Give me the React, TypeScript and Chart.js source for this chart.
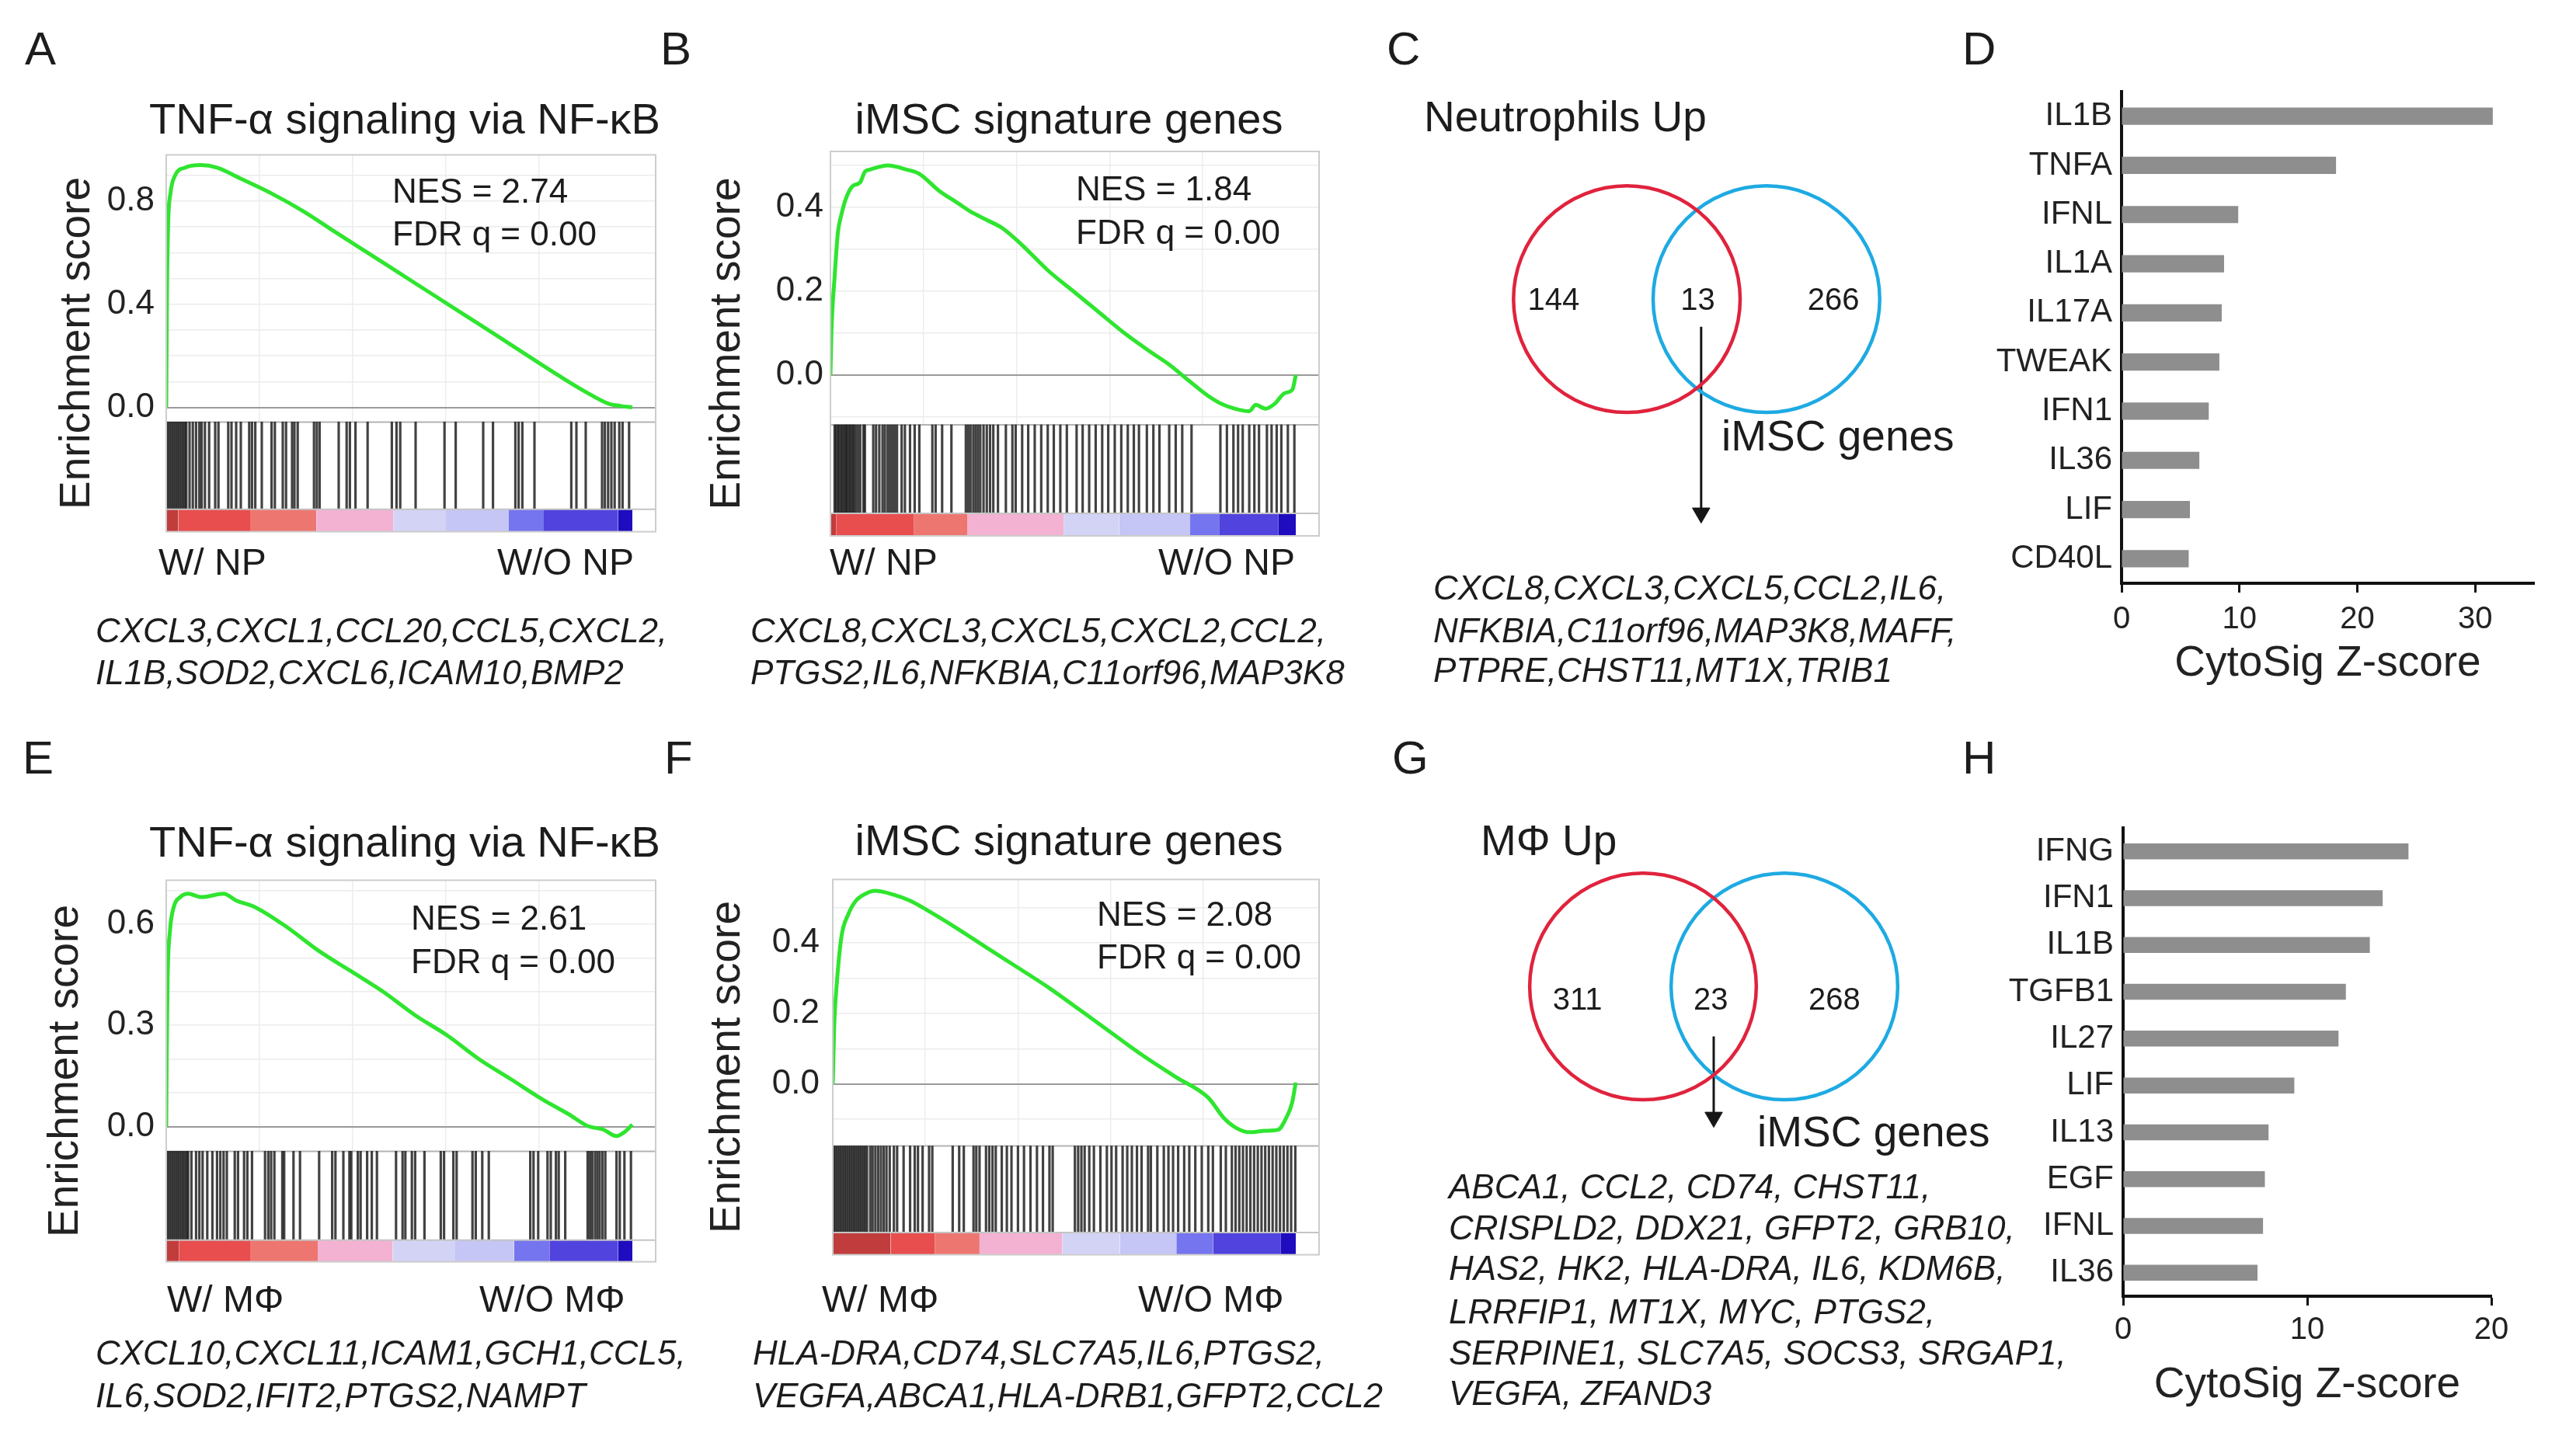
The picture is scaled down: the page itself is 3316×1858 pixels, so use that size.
import React, { useEffect, useRef } from 'react';
import { Chart, registerables } from 'chart.js';

Chart.register(...registerables);

const FONT = "'Liberation Sans', Arial, Helvetica, sans-serif";
Chart.defaults.font.family = FONT;
Chart.defaults.color = '#1e1e1e';

// ======================= DATA =======================
// GSEA running enrichment score: rank position (% of ranked list) and ES value
const A_RANK = [0, 0.14, 0.41, 0.9, 1.9, 4.0, 7.4, 10.9, 15.7, 22.6, 29.5, 36.3, 43.2, 50.1, 57.0, 63.9, 70.8, 77.6, 84.5, 90.0, 94.8, 97.6, 100];
const A_ES = [0, 0.41, 0.71, 0.83, 0.9, 0.93, 0.94, 0.93, 0.89, 0.83, 0.76, 0.68, 0.6, 0.52, 0.44, 0.36, 0.28, 0.2, 0.12, 0.06, 0.015, 0.005, 0];
const A_HITS = [0, 0.4, 0.8, 1.2, 1.6, 2.0, 2.4, 2.8, 3.2, 3.6, 4.0, 4.3, 5.0, 5.7, 6.4, 7.1, 7.6, 8.3, 9.2, 10.5, 11.2, 13.3, 14.0, 15.0, 16.0, 17.8, 18.4, 19.1, 20.5, 22.6, 23.3, 25.0, 25.7, 27.0, 27.5, 28.2, 31.7, 32.3, 32.9, 37.0, 38.7, 39.4, 40.6, 43.2, 48.4, 49.4, 50.2, 53.5, 59.7, 62.1, 68.0, 70.1, 74.9, 75.6, 76.4, 79.0, 86.9, 88.0, 90.0, 93.5, 94.1, 94.8, 95.5, 96.2, 97.2, 97.9, 99.3];
const A_BANDS = [0, 2.6, 18, 32.2, 48.7, 60, 73.5, 81, 96.9, 100];
const A_TICKS = [0, 0.4, 0.8];

const B_RANK = [0, 0.2, 0.9, 1.6, 2.3, 3.3, 4.7, 6.4, 7.4, 8.5, 12.3, 16.4, 19.1, 23.3, 27.4, 30.1, 33.6, 37.0, 41.2, 46.7, 52.2, 57.7, 63.2, 68.7, 72.8, 76.9, 81.1, 84.5, 88.0, 90.0, 91.4, 93.5, 95.5, 97.6, 99.3, 100];
const B_ES = [0, 0.099, 0.235, 0.34, 0.38, 0.42, 0.45, 0.46, 0.485, 0.49, 0.5, 0.49, 0.48, 0.44, 0.41, 0.39, 0.37, 0.35, 0.31, 0.25, 0.2, 0.15, 0.1, 0.056, 0.025, -0.012, -0.049, -0.071, -0.083, -0.086, -0.071, -0.08, -0.068, -0.043, -0.034, 0];
const B_HITS = [0.9, 1.2, 1.6, 1.9, 2.3, 2.6, 3.0, 3.3, 3.6, 4.0, 4.3, 4.7, 5.0, 5.4, 5.9, 6.4, 7.1, 7.4, 9.2, 9.8, 10.5, 11.2, 11.7, 12.3, 12.8, 13.3, 13.8, 14.3, 15.3, 16.0, 17.1, 18.1, 19.1, 21.9, 22.6, 24.0, 26.0, 29.1, 29.6, 30.1, 30.7, 31.2, 31.7, 32.2, 32.9, 33.6, 34.3, 35.0, 36.0, 37.7, 39.1, 39.8, 41.2, 42.5, 43.9, 45.3, 46.7, 48.0, 49.4, 50.8, 52.9, 54.2, 55.6, 57.0, 58.4, 59.7, 61.1, 62.5, 63.9, 65.2, 66.3, 68.0, 69.4, 70.7, 72.8, 74.2, 75.6, 77.6, 83.8, 85.2, 86.6, 87.6, 88.6, 90.0, 91.1, 92.1, 93.8, 94.8, 95.9, 96.9, 98.3, 99.7];
const B_BANDS = [0, 1.2, 18, 29.5, 50.1, 62, 77.3, 83.5, 96.2, 100];
const B_TICKS = [0, 0.2, 0.4];

const E_RANK = [0, 0.1, 0.3, 0.8, 1.6, 3.0, 4.7, 7.5, 12.3, 15.0, 19.1, 26.0, 32.8, 39.7, 46.5, 53.4, 60.3, 67.1, 74.0, 80.8, 86.3, 90.4, 93.8, 96.6, 98.6, 100];
const E_ES = [0, 0.21, 0.44, 0.58, 0.65, 0.68, 0.69, 0.68, 0.69, 0.67, 0.65, 0.59, 0.52, 0.46, 0.4, 0.33, 0.27, 0.2, 0.14, 0.08, 0.037, 0.002, -0.009, -0.028, -0.013, 0.006];
const E_HITS = [0, 0.4, 0.8, 1.2, 1.6, 2.0, 2.4, 2.8, 3.2, 3.6, 4.0, 4.4, 4.7, 5.4, 6.4, 7.1, 7.8, 8.8, 9.9, 10.9, 11.6, 12.3, 13.0, 14.7, 15.4, 16.7, 17.4, 18.4, 21.2, 21.9, 22.5, 23.2, 24.9, 25.3, 27.3, 28.7, 32.8, 35.6, 36.3, 38.0, 39.3, 39.7, 41.1, 41.7, 43.1, 44.1, 45.2, 49.3, 50.7, 51.3, 52.7, 53.4, 55.4, 58.9, 59.6, 61.6, 62.3, 65.7, 66.4, 67.8, 69.2, 78.1, 78.8, 79.8, 81.8, 82.5, 83.6, 84.2, 85.6, 90.4, 90.9, 91.4, 92.0, 92.5, 93.0, 93.6, 94.2, 96.6, 97.3, 98.3, 99.7];
const E_BANDS = [0, 2.7, 18, 32.5, 48.6, 62, 74.6, 82.2, 96.9, 100];
const E_TICKS = [0, 0.3, 0.6];

const F_RANK = [0, 0.3, 0.9, 1.9, 3.3, 5.0, 7.1, 9.1, 13.2, 16.7, 20.8, 26.3, 33.1, 40.0, 46.8, 53.7, 60.5, 67.4, 74.2, 81.1, 84.5, 87.3, 90.0, 93.4, 96.2, 97.9, 99.2, 100];
const F_ES = [0, 0.16, 0.29, 0.42, 0.48, 0.52, 0.54, 0.548, 0.537, 0.52, 0.49, 0.446, 0.388, 0.33, 0.272, 0.207, 0.142, 0.077, 0.019, -0.039, -0.097, -0.126, -0.137, -0.133, -0.13, -0.097, -0.054, 0.004];
const F_HITS = [0.2, 0.6, 1.0, 1.4, 1.8, 2.2, 2.6, 3.0, 3.4, 3.8, 4.2, 4.6, 5.0, 5.4, 5.8, 6.2, 6.6, 7.0, 7.4, 8.1, 8.6, 9.2, 9.8, 10.4, 11.0, 11.6, 12.3, 13.2, 13.9, 15.3, 16.7, 17.7, 18.4, 19.4, 20.8, 21.5, 25.9, 27.3, 28.3, 30.4, 31.0, 31.7, 33.1, 33.8, 34.5, 35.2, 36.5, 37.6, 38.6, 40.0, 41.3, 42.7, 44.1, 45.4, 46.8, 47.5, 52.3, 53.0, 53.7, 54.4, 55.4, 56.4, 57.8, 59.2, 60.2, 61.2, 62.6, 63.6, 64.6, 65.7, 66.7, 68.1, 68.7, 70.1, 71.5, 72.5, 73.5, 74.6, 75.9, 77.0, 78.3, 79.7, 81.1, 82.1, 83.8, 84.9, 86.2, 87.0, 87.8, 88.6, 89.4, 90.2, 91.0, 91.8, 92.6, 93.4, 94.2, 95.0, 95.8, 96.6, 97.4, 98.2, 99.0, 99.9];
const F_BANDS = [0, 12.5, 22, 31.7, 49.6, 62, 74.2, 82.1, 96.8, 100];
const F_TICKS = [0, 0.2, 0.4];

// Venn counts: [left only, overlap, right only]
const C_COUNTS = [144, 13, 266];
const G_COUNTS = [311, 23, 268];

// CytoSig bars
const D_CYTOKINES = ['IL1B', 'TNFA', 'IFNL', 'IL1A', 'IL17A', 'TWEAK', 'IFN1', 'IL36', 'LIF', 'CD40L'];
const D_ZSCORE = [31.5, 18.2, 9.9, 8.7, 8.5, 8.3, 7.4, 6.6, 5.8, 5.7];
const H_CYTOKINES = ['IFNG', 'IFN1', 'IL1B', 'TGFB1', 'IL27', 'LIF', 'IL13', 'EGF', 'IFNL', 'IL36'];
const H_ZSCORE = [15.5, 14.1, 13.4, 12.1, 11.7, 9.3, 7.9, 7.7, 7.6, 7.3];

// Gene lists
const A_GENES = ['CXCL3,CXCL1,CCL20,CCL5,CXCL2,', 'IL1B,SOD2,CXCL6,ICAM10,BMP2'];
const B_GENES = ['CXCL8,CXCL3,CXCL5,CXCL2,CCL2,', 'PTGS2,IL6,NFKBIA,C11orf96,MAP3K8'];
const C_GENES = ['CXCL8,CXCL3,CXCL5,CCL2,IL6,', 'NFKBIA,C11orf96,MAP3K8,MAFF,', 'PTPRE,CHST11,MT1X,TRIB1'];
const E_GENES = ['CXCL10,CXCL11,ICAM1,GCH1,CCL5,', 'IL6,SOD2,IFIT2,PTGS2,NAMPT'];
const F_GENES = ['HLA-DRA,CD74,SLC7A5,IL6,PTGS2,', 'VEGFA,ABCA1,HLA-DRB1,GFPT2,CCL2'];
const G_GENES = ['ABCA1, CCL2, CD74, CHST11,', 'CRISPLD2, DDX21, GFPT2, GRB10,', 'HAS2, HK2, HLA-DRA, IL6, KDM6B,', 'LRRFIP1, MT1X, MYC, PTGS2,', 'SERPINE1, SLC7A5, SOCS3, SRGAP1,', 'VEGFA, ZFAND3'];

// ======================= STYLE =======================
const BAND_COLORS = ['#c13c3c', '#e84e4e', '#ee7670', '#f3b2d2', '#d3d3f6', '#c5c5f6', '#7575ef', '#5143dd', '#1e0cbe'];
const TEXT = '#1c1c1c';
const PAD = 40;

type GL = { boxL: number; boxR: number; boxT: number; boxB: number; zeroY: number; ppu: number; dataEndX: number; esBottomY: number; gradTopY: number; titleCX: number; tickPad: number };

const LAYOUT_A: GL = { boxL: 214, boxR: 844, boxT: 198, boxB: 686, zeroY: 525, ppu: 333.75, dataEndX: 814, esBottomY: 544, gradTopY: 657, titleCX: 100, tickPad: 15 };
const LAYOUT_B: GL = { boxL: 1069, boxR: 1698, boxT: 195, boxB: 690, zeroY: 483, ppu: 540, dataEndX: 1668, esBottomY: 547, gradTopY: 661, titleCX: 937, tickPad: 9 };
const LAYOUT_E: GL = { boxL: 214, boxR: 844, boxT: 1132, boxB: 1626, zeroY: 1451, ppu: 437, dataEndX: 814, esBottomY: 1483, gradTopY: 1598, titleCX: 85, tickPad: 15 };
const LAYOUT_F: GL = { boxL: 1072, boxR: 1698, boxT: 1129, boxB: 1619, zeroY: 1396, ppu: 460, dataEndX: 1668, esBottomY: 1477, gradTopY: 1590, titleCX: 937, tickPad: 17 };

// ======================= COMPONENTS =======================
function ChartBox({ x, y, w, h, build }: { x: number; y: number; w: number; h: number; build: () => any }) {
  const ref = useRef<HTMLCanvasElement>(null);
  useEffect(() => {
    const chart = new Chart(ref.current as HTMLCanvasElement, build());
    return () => chart.destroy();
  }, []);
  const W = Math.round(w);
  const H = Math.round(h);
  return (
    <canvas
      ref={ref}
      width={W}
      height={H}
      style={{ position: 'absolute', left: Math.round(x), top: Math.round(y), width: W, height: H }}
    />
  );
}

const boxPlugin = {
  id: 'gseaBox',
  afterDatasetsDraw(chart: any) {
    const { ctx, chartArea: a } = chart;
    ctx.save();
    ctx.strokeStyle = '#cdcdcd';
    ctx.lineWidth = 2;
    ctx.strokeRect(a.left, a.top, a.right - a.left, a.bottom - a.top);
    ctx.restore();
  },
};

function GseaChart({ rank, es, hits, bands, ticks, L }: { rank: number[]; es: number[]; hits: number[]; bands: number[]; ticks: number[]; L: GL }) {
  const yMax = (L.zeroY - L.boxT) / L.ppu;
  const yMin = (L.zeroY - L.boxB) / L.ppu;
  const esB = (L.zeroY - L.esBottomY) / L.ppu;
  const gT = (L.zeroY - L.gradTopY) / L.ppu;
  const xMax = (100 * (L.boxR - L.boxL)) / (L.dataEndX - L.boxL);
  const left = L.titleCX - 33;
  const axisW = L.boxL - left;
  const w = L.boxR - left + 12;
  const h = L.boxB - L.boxT + 2 * PAD;

  const build = () => {
    const datasets: any[] = [];
    datasets.push({
      type: 'line', label: 'Enrichment score',
      data: rank.map((r, i) => ({ x: r, y: es[i] })),
      borderColor: '#2fe52f', borderWidth: 5, pointRadius: 0,
      cubicInterpolationMode: 'monotone', fill: false, order: 0,
    });
    datasets.push({
      type: 'line', label: 'rank top',
      data: [{ x: 0, y: gT }, { x: xMax, y: gT }],
      borderColor: '#c4c4c4', borderWidth: 2, pointRadius: 0, fill: false, order: 1,
    });
    datasets.push({
      type: 'bar', label: 'hits',
      data: hits.map((p) => ({ x: p, y: [gT, esB] })),
      backgroundColor: 'rgba(25,25,25,0.82)', barThickness: 2.5, order: 2,
    });
    for (let i = 0; i < bands.length - 1; i++) {
      datasets.push({
        type: 'line', label: 'metric' + i,
        data: [{ x: bands[i], y: gT }, { x: bands[i + 1], y: gT }],
        borderColor: 'rgba(0,0,0,0)', borderWidth: 0, pointRadius: 0,
        fill: { value: yMin }, backgroundColor: BAND_COLORS[i], order: 3,
      });
    }
    datasets.push({
      type: 'line', label: 'hit area',
      data: [{ x: 0, y: esB }, { x: xMax, y: esB }],
      borderColor: '#b3b3b3', borderWidth: 2, pointRadius: 0,
      fill: { value: yMin }, backgroundColor: '#ffffff', order: 4,
    });
    return {
      type: 'line',
      data: { datasets },
      options: {
        responsive: false, animation: false, devicePixelRatio: 1,
        layout: { padding: { left: 0, right: 12, top: PAD, bottom: PAD } },
        plugins: { legend: { display: false }, tooltip: { enabled: false } },
        scales: {
          x: {
            type: 'linear', min: 0, max: xMax, offset: false,
            ticks: { display: false, stepSize: 20 },
            grid: { color: '#ededed', lineWidth: 1.5, drawTicks: false, offset: false },
            border: { display: false },
            afterFit: (s: any) => { s.height = 0; },
          },
          y: {
            type: 'linear', min: yMin, max: yMax,
            ticks: {
              stepSize: 0.1, autoSkip: false, includeBounds: false, padding: L.tickPad,
              font: { size: 44 }, color: '#222',
              callback: (v: any) => (ticks.some((t) => Math.abs(t - Number(v)) < 1e-6) ? Number(v).toFixed(1) : ''),
            },
            grid: {
              drawTicks: false,
              color: (c: any) => (Math.abs(c.tick.value) < 1e-9 ? '#9a9a9a' : '#ececec'),
              lineWidth: (c: any) => (Math.abs(c.tick.value) < 1e-9 ? 2 : 1.5),
            },
            border: { display: false },
            title: { display: true, text: 'Enrichment score', font: { size: 55 }, color: '#222', padding: 0 },
            afterFit: (s: any) => { s.width = axisW; },
          },
        },
      },
      plugins: [boxPlugin],
    };
  };
  return <ChartBox x={left} y={L.boxT - PAD} w={w} h={h} build={build} />;
}

type VL = { cx: number; cy: number; r: number; sep: number; arrowX: number; arrowY0: number; arrowY1: number; labelX: number[]; labelY: number };
const VENN_C: VL = { cx: 2184, cy: 382, r: 153, sep: 0.616, arrowX: 0.04, arrowY0: -0.245, arrowY1: -1.987, labelX: [-1.263, 0.011, 1.207], labelY: -0.095 };
const VENN_G: VL = { cx: 2206, cy: 1267, r: 153, sep: 0.624, arrowX: 0.0, arrowY0: -0.444, arrowY1: -1.248, labelX: [-1.203, -0.026, 1.065], labelY: -0.203 };

function VennChart({ counts, names, V }: { counts: number[]; names: string[]; V: VL }) {
  const W = 600;
  const H = 520;
  const TOP = 200;
  const build = () => {
    const unitPx = (ctx: any) => {
      const s = ctx.chart.scales.x;
      return Math.abs(s.getPixelForValue(1) - s.getPixelForValue(0));
    };
    const headOff = 13 / V.r;
    const labelPlugin = {
      id: 'vennCounts',
      afterDatasetsDraw(chart: any) {
        const { ctx, scales } = chart;
        ctx.save();
        ctx.font = `40px ${FONT}`;
        ctx.fillStyle = TEXT;
        ctx.textAlign = 'center';
        ctx.textBaseline = 'alphabetic';
        counts.forEach((c, i) => {
          ctx.fillText(String(c), scales.x.getPixelForValue(V.labelX[i]), scales.y.getPixelForValue(V.labelY));
        });
        ctx.restore();
      },
    };
    return {
      type: 'scatter',
      data: {
        datasets: [
          { label: names[0], data: [{ x: -V.sep, y: 0 }], pointRadius: unitPx, pointBorderColor: '#e0233d', pointBackgroundColor: 'rgba(0,0,0,0)', pointBorderWidth: 4.5 },
          { label: names[1], data: [{ x: V.sep, y: 0 }], pointRadius: unitPx, pointBorderColor: '#1eaae2', pointBackgroundColor: 'rgba(0,0,0,0)', pointBorderWidth: 4.5 },
          { label: 'arrow', data: [{ x: V.arrowX, y: V.arrowY0 }, { x: V.arrowX, y: V.arrowY1 + headOff }], showLine: true, borderColor: '#161616', borderWidth: 3, pointRadius: 0 },
          { label: 'arrowhead', data: [{ x: V.arrowX, y: V.arrowY1 + headOff }], pointStyle: 'triangle', rotation: 180, pointRadius: 13, pointBackgroundColor: '#161616', pointBorderColor: '#161616', pointBorderWidth: 1 },
        ],
      },
      options: {
        responsive: false, animation: false, devicePixelRatio: 1,
        layout: { padding: 0 },
        plugins: { legend: { display: false }, tooltip: { enabled: false } },
        scales: {
          x: { type: 'linear', display: false, min: -W / 2 / V.r, max: W / 2 / V.r },
          y: { type: 'linear', display: false, min: -(H - TOP) / V.r, max: TOP / V.r },
        },
      },
      plugins: [labelPlugin],
    };
  };
  return <ChartBox x={V.cx - W / 2} y={V.cy - TOP} w={W} h={H} build={build} />;
}

type BL = { chartL: number; chartR: number; chartT: number; chartB: number; xMax: number; tickPad: number; axisH: number; titlePadTop: number; barPct: number };
const BARS_D: BL = { chartL: 2731, chartR: 3262, chartT: 118, chartB: 751, xMax: 35, tickPad: 11, axisH: 137, titlePadTop: 0, barPct: 0.35 };
const BARS_H: BL = { chartL: 2733, chartR: 3207, chartT: 1066, chartB: 1669, xMax: 20, tickPad: 8, axisH: 148, titlePadTop: 14, barPct: 0.34 };

function BarChart({ labels, values, B }: { labels: string[]; values: number[]; B: BL }) {
  const YW = 200;
  const RP = 40;
  const x = B.chartL - YW;
  const y = B.chartT - PAD;
  const w = YW + (B.chartR - B.chartL) + RP;
  const h = PAD + (B.chartB - B.chartT) + B.axisH;
  const build = () => ({
    type: 'bar',
    data: { labels, datasets: [{ label: 'CytoSig Z-score', data: values, backgroundColor: '#8e8e8e', barPercentage: B.barPct, categoryPercentage: 1 }] },
    options: {
      indexAxis: 'y', responsive: false, animation: false, devicePixelRatio: 1,
      layout: { padding: { left: 0, right: RP, top: PAD, bottom: 0 } },
      plugins: { legend: { display: false }, tooltip: { enabled: false } },
      scales: {
        x: {
          type: 'linear', min: 0, max: B.xMax,
          ticks: { stepSize: 10, includeBounds: false, padding: B.tickPad, font: { size: 40 }, color: '#222' },
          grid: { drawOnChartArea: false, drawTicks: true, tickLength: 12, tickWidth: 3, tickColor: '#111' },
          border: { display: true, color: '#111', width: 4 },
          title: { display: true, text: 'CytoSig Z-score', font: { size: 55 }, color: '#222', padding: { top: B.titlePadTop, bottom: 0 } },
          afterFit: (s: any) => { s.height = B.axisH; },
        },
        y: {
          ticks: { padding: 12, font: { size: 42 }, color: '#222', autoSkip: false },
          grid: { display: true, drawOnChartArea: false, drawTicks: false },
          border: { display: true, color: '#111', width: 4 },
          afterFit: (s: any) => { s.width = YW; },
        },
      },
    },
  });
  return <ChartBox x={x} y={y} w={w} h={h} build={build} />;
}

type TItem = { x: number; y: number; s: number; t: string; it?: boolean; mid?: boolean };

const TEXTS: TItem[] = [
  // panel letters
  { x: 32, y: 83, s: 60, t: 'A' }, { x: 850, y: 83, s: 60, t: 'B' }, { x: 1785, y: 83, s: 60, t: 'C' }, { x: 2526, y: 83, s: 60, t: 'D' },
  { x: 29, y: 996, s: 60, t: 'E' }, { x: 855, y: 996, s: 60, t: 'F' }, { x: 1792, y: 996, s: 60, t: 'G' }, { x: 2526, y: 996, s: 60, t: 'H' },
  // GSEA titles
  { x: 521, y: 172, s: 56, t: 'TNF-α signaling via NF-κB', mid: true },
  { x: 1376, y: 172, s: 56, t: 'iMSC signature genes', mid: true },
  { x: 521, y: 1103, s: 56, t: 'TNF-α signaling via NF-κB', mid: true },
  { x: 1376, y: 1101, s: 56, t: 'iMSC signature genes', mid: true },
  // NES / FDR
  { x: 505, y: 261, s: 44, t: 'NES = 2.74' }, { x: 505, y: 316, s: 44, t: 'FDR q = 0.00' },
  { x: 1385, y: 258, s: 44, t: 'NES = 1.84' }, { x: 1385, y: 314, s: 44, t: 'FDR q = 0.00' },
  { x: 529, y: 1197, s: 44, t: 'NES = 2.61' }, { x: 529, y: 1253, s: 44, t: 'FDR q = 0.00' },
  { x: 1412, y: 1192, s: 44, t: 'NES = 2.08' }, { x: 1412, y: 1247, s: 44, t: 'FDR q = 0.00' },
  // phenotype labels
  { x: 204, y: 740, s: 48, t: 'W/ NP' }, { x: 640, y: 740, s: 48, t: 'W/O NP' },
  { x: 1068, y: 740, s: 48, t: 'W/ NP' }, { x: 1491, y: 740, s: 48, t: 'W/O NP' },
  { x: 215, y: 1689, s: 48, t: 'W/ MΦ' }, { x: 617, y: 1689, s: 48, t: 'W/O MΦ' },
  { x: 1058, y: 1689, s: 48, t: 'W/ MΦ' }, { x: 1465, y: 1689, s: 48, t: 'W/O MΦ' },
  // Venn set names
  { x: 1833, y: 169, s: 55, t: 'Neutrophils Up' }, { x: 2216, y: 580, s: 55, t: 'iMSC genes' },
  { x: 1906, y: 1101, s: 55, t: 'MΦ Up' }, { x: 2262, y: 1476, s: 55, t: 'iMSC genes' },
];

function geneLines(lines: string[], x: number, ys: number[]): TItem[] {
  return lines.map((t, i) => ({ x, y: ys[i], s: 44, t, it: true }));
}

const GENE_TEXTS: TItem[] = [
  ...geneLines(A_GENES, 123, [827, 881]),
  ...geneLines(B_GENES, 966, [827, 881]),
  ...geneLines(C_GENES, 1845, [772, 827, 878]),
  ...geneLines(E_GENES, 123, [1757, 1812]),
  ...geneLines(F_GENES, 969, [1757, 1812]),
  ...geneLines(G_GENES, 1865, [1543, 1596, 1648, 1704, 1757, 1809]),
];

export default function App() {
  const all = [...TEXTS, ...GENE_TEXTS];
  return (
    <div style={{ position: 'absolute', left: 0, top: 0, width: 3316, height: 1858, background: '#ffffff', overflow: 'hidden' }}>
      <GseaChart rank={A_RANK} es={A_ES} hits={A_HITS} bands={A_BANDS} ticks={A_TICKS} L={LAYOUT_A} />
      <GseaChart rank={B_RANK} es={B_ES} hits={B_HITS} bands={B_BANDS} ticks={B_TICKS} L={LAYOUT_B} />
      <GseaChart rank={E_RANK} es={E_ES} hits={E_HITS} bands={E_BANDS} ticks={E_TICKS} L={LAYOUT_E} />
      <GseaChart rank={F_RANK} es={F_ES} hits={F_HITS} bands={F_BANDS} ticks={F_TICKS} L={LAYOUT_F} />
      <VennChart counts={C_COUNTS} names={['Neutrophils Up', 'iMSC genes']} V={VENN_C} />
      <VennChart counts={G_COUNTS} names={['MΦ Up', 'iMSC genes']} V={VENN_G} />
      <BarChart labels={D_CYTOKINES} values={D_ZSCORE} B={BARS_D} />
      <BarChart labels={H_CYTOKINES} values={H_ZSCORE} B={BARS_H} />
      <svg width={3316} height={1858} style={{ position: 'absolute', left: 0, top: 0, pointerEvents: 'none' }}>
        {all.map((d, i) => (
          <text
            key={i}
            x={d.x}
            y={d.y}
            fontSize={d.s}
            fontFamily={FONT}
            fontStyle={d.it ? 'italic' : 'normal'}
            textAnchor={d.mid ? 'middle' : 'start'}
            fill={TEXT}
          >
            {d.t}
          </text>
        ))}
      </svg>
    </div>
  );
}
